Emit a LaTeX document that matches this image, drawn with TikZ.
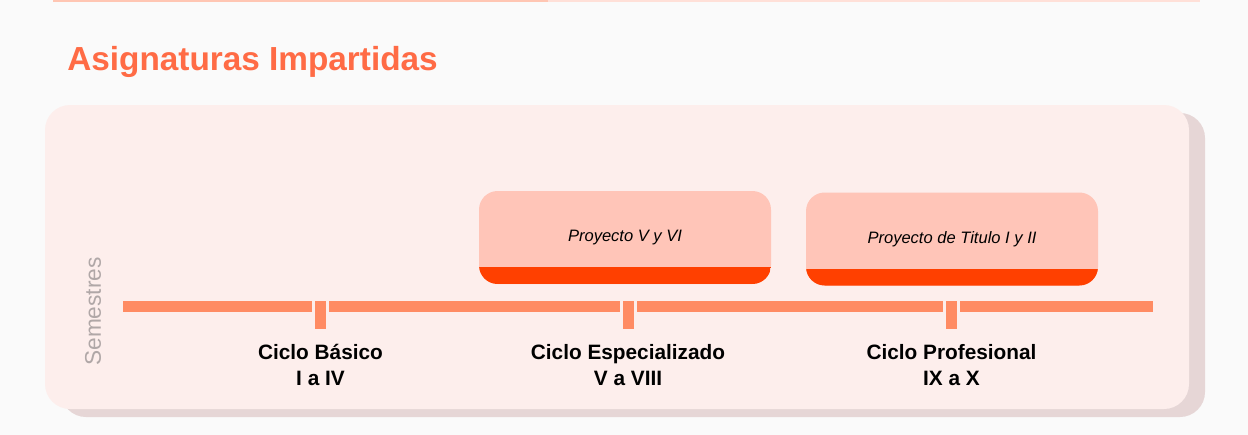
\documentclass[tikz,border=0pt]{standalone}
\usepackage{fontspec}
\setmainfont{Liberation Sans}
\usetikzlibrary{positioning}

\definecolor{pagebg}{HTML}{FAFAFA}
\definecolor{cardbg}{HTML}{FDEEEC}
\definecolor{shadowbg}{HTML}{E6D6D6}
\definecolor{axiscol}{HTML}{FF8B63}
\definecolor{projbg}{HTML}{FFC5B8}
\definecolor{projband}{HTML}{FF4000}
\definecolor{titlecol}{HTML}{FF6B45}
\definecolor{semcol}{HTML}{B0A7A7}
\definecolor{topdark}{HTML}{FFC6B3}
\definecolor{toplight}{HTML}{FFE0D8}

\tikzset{
  tickmark/.style={fill=axiscol, draw=cardbg, line width=2.25pt,
    minimum width=10.5pt, minimum height=23.25pt, inner sep=0pt, outer sep=0pt},
  projcard/.style={fill=projbg, rounded corners=14pt, minimum width=219pt,
    minimum height=69.75pt, inner sep=0pt,
    font=\itshape\fontsize{12.4pt}{15pt}\selectfont,
    path picture={\fill[projband, sharp corners]
      ([yshift=12.75pt]path picture bounding box.south west)
      rectangle (path picture bounding box.south east);}},
  cyclelabel/.style={font=\bfseries\fontsize{15.6pt}{19.5pt}\selectfont,
    align=center, inner sep=0pt, anchor=base},
}

\begin{document}
\begin{tikzpicture}[x=0.75pt, y=-0.75pt]
    % Page parameters (in pixels)
    \def\axisy{306.5} % height of the time axis
    \def\ticky{315} % centre of the tick marks
    \def\laby{385} % baseline of the second label line

    % Page background
    \fill[pagebg] (0,0) rectangle (1248,435);
    \useasboundingbox (0,0) rectangle (1248,435);

    % Thin line at the top edge
    \coordinate (L1) at (53,1);
    \coordinate (L2) at (548,1);
    \coordinate (L3) at (1200,1);
    \draw[topdark, line width=1.5pt] (L1) -- (L2);
    \draw[toplight, line width=1.5pt] (L2) -- (L3);

    % Heading
    \node[anchor=base west, inner sep=0pt, text=titlecol,
      font=\bfseries\fontsize{25pt}{30pt}\selectfont] (title) at (67,70) {Asignaturas Impartidas};

    % Panel with its shadow
    \fill[shadowbg, rounded corners=18.75pt] (61,113) rectangle (1205,417);
    \fill[cardbg, rounded corners=18.75pt] (45,105) rectangle (1189,409);

    % Axis label
    \node[rotate=90, text=semcol, inner sep=0pt,
      font=\fontsize{17pt}{20pt}\selectfont] (sem) at (93,311.5) {Semestres};

    % Time axis
    \coordinate (axisL) at (123,\axisy);
    \coordinate (axisR) at (1153,\axisy);
    \draw[axiscol, line width=8.25pt] (axisL) -- (axisR);

    % Tick marks
    \node[tickmark] (t1) at (320.5,\ticky) {};
    \node[tickmark] (t2) at (628,\ticky) {};
    \node[tickmark] (t3) at (951.5,\ticky) {};

    % Cycle labels under the ticks
    \node[cyclelabel] (basico) at (320.5,\laby) {Ciclo Básico\\I a IV};
    \node[cyclelabel] (especializado) at (628,\laby) {Ciclo Especializado\\V a VIII};
    \node[cyclelabel] (profesional) at (951.5,\laby) {Ciclo Profesional\\IX a X};

    % Project cards above the axis
    \node[projcard] (proyecto) at (625,237.5) {Proyecto V y VI\hspace{7pt}};
    \node[projcard] (titulo) at (952,239) {Proyecto de Titulo I y II};
\end{tikzpicture}
\end{document}
